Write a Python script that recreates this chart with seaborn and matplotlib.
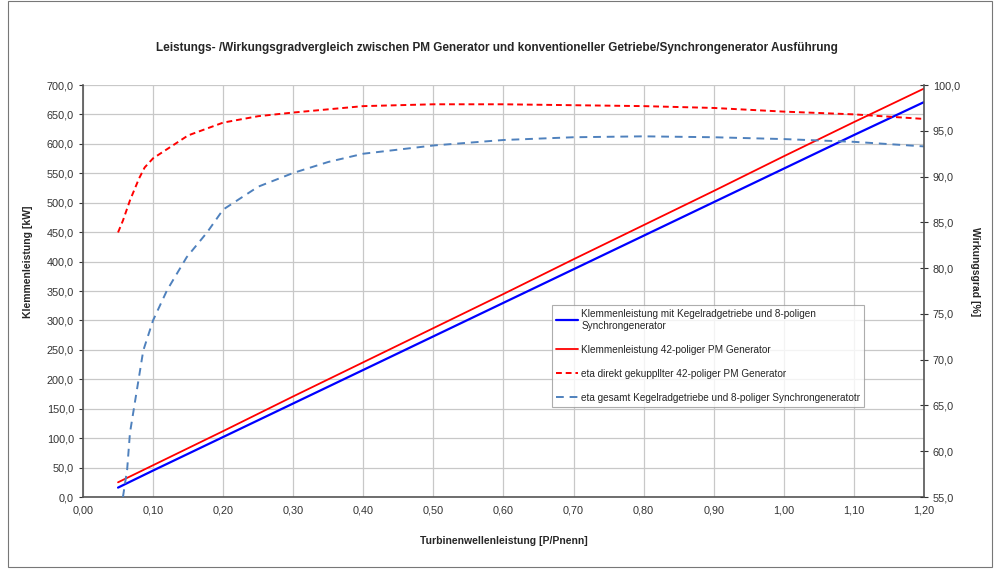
import numpy as np
import pandas as pd
import seaborn as sns
import matplotlib.pyplot as plt
from matplotlib.patches import Rectangle
from matplotlib.ticker import FuncFormatter, MultipleLocator

# Klemmenleistung (linke Achse, kW)
p_x = [0.05, 0.10, 0.20, 0.30, 0.40, 0.50, 0.60, 0.70, 0.80, 0.90, 1.00, 1.10, 1.20]
p_pm = [25, 54, 112, 171, 229, 287, 345, 404, 462, 520, 579, 637, 694]
p_sync = [16, 45, 102, 159, 216, 273, 330, 387, 444, 501, 558, 615, 671]

# Wirkungsgrad (rechte Achse, %)
eta_pm_x = [0.05, 0.057, 0.067, 0.08, 0.088, 0.10, 0.15, 0.20, 0.25, 0.30, 0.40, 0.50, 0.60,
            0.70, 0.80, 0.90, 1.00, 1.10, 1.20]
eta_pm = [83.9, 85.2, 87.4, 89.8, 91.0, 92.0, 94.5, 95.9, 96.6, 97.0, 97.7, 97.9, 97.9,
          97.8, 97.7, 97.5, 97.1, 96.8, 96.3]

eta_sync_x = [0.057, 0.063, 0.067, 0.086, 0.10, 0.12, 0.148, 0.177, 0.20, 0.25, 0.30, 0.35, 0.40,
              0.50, 0.60, 0.70, 0.80, 0.90, 1.00, 1.10, 1.20]
eta_sync = [55.0, 58.0, 62.0, 71.0, 74.3, 77.6, 81.2, 83.9, 86.4, 88.9, 90.4, 91.6, 92.5,
            93.4, 94.0, 94.3, 94.4, 94.3, 94.1, 93.8, 93.3]

labels = [
    "Klemmenleistung mit Kegelradgetriebe und 8-poligen\nSynchrongenerator",
    "Klemmenleistung 42-poliger PM Generator",
    "eta direkt gekuppllter 42-poliger PM Generator",
    "eta gesamt Kegelradgetriebe und 8-poliger Synchrongeneratotr",
]


def comma(fmt):
    return FuncFormatter(lambda v, pos: format(v, fmt).replace(".", ","))


def main():
    sns.set_style("white")
    plt.rcParams["font.family"] = ["Liberation Sans", "DejaVu Sans"]
    plt.rcParams["font.size"] = 7.5

    fig = plt.figure(figsize=(9.94, 5.69), dpi=100)
    ax = fig.add_axes([0.0835, 0.1265, 0.846, 0.724])
    ax2 = ax.twinx()

    sns.lineplot(x=p_x, y=p_sync, ax=ax, color="#0000ff", lw=1.6, label=labels[0], legend=False)
    sns.lineplot(x=p_x, y=p_pm, ax=ax, color="#ff0000", lw=1.3, label=labels[1], legend=False)
    sns.lineplot(x=eta_pm_x, y=eta_pm, ax=ax2, color="#ff0000", lw=1.4,
                 linestyle=(0, (3, 2)), label=labels[2], legend=False)
    sns.lineplot(x=eta_sync_x, y=eta_sync, ax=ax2, color="#4f81bd", lw=1.4,
                 linestyle=(0, (4, 3)), label=labels[3], legend=False)

    ax.set_xlim(0, 1.2)
    ax.set_ylim(0, 700)
    ax2.set_ylim(55, 100)
    ax.xaxis.set_major_locator(MultipleLocator(0.1))
    ax.yaxis.set_major_locator(MultipleLocator(50))
    ax2.yaxis.set_major_locator(MultipleLocator(5))
    ax.xaxis.set_major_formatter(comma(".2f"))
    ax.yaxis.set_major_formatter(comma(".1f"))
    ax2.yaxis.set_major_formatter(comma(".1f"))

    ax.grid(True, color="#c8c8c8", lw=0.9)
    ax.set_axisbelow(True)
    for a in (ax, ax2):
        for s in a.spines.values():
            s.set_visible(False)
        a.tick_params(colors="#333333", labelsize=7.8, length=3, width=0.8)
    ax.spines["left"].set_visible(True)
    ax.spines["bottom"].set_visible(True)
    ax2.spines["right"].set_visible(True)
    for s in (ax.spines["left"], ax.spines["bottom"], ax2.spines["right"]):
        s.set_color("#555555")
        s.set_linewidth(1.2)
    ax.tick_params(axis="x", length=0, pad=6)
    ax.tick_params(axis="y", direction="out")
    ax2.tick_params(axis="y", direction="inout", length=6)

    ax.set_xlabel("Turbinenwellenleistung [P/Pnenn]", fontweight="bold", fontsize=7.5, labelpad=15)
    ax.set_ylabel("Klemmenleistung [kW]", fontweight="bold", fontsize=7.5)
    ax.yaxis.set_label_coords(-0.060, 0.57)
    ax2.set_ylabel("Wirkungsgrad [%]", fontweight="bold", fontsize=7.5, rotation=270, va="center")
    ax2.yaxis.set_label_coords(1.0606, 0.546)

    fig.text(0.5, 0.915, "Leistungs- /Wirkungsgradvergleich zwischen PM Generator und konventioneller "
             "Getriebe/Synchrongenerator Ausführung", ha="center", va="center",
             fontsize=8.5, fontweight="bold")

    h1, l1 = ax.get_legend_handles_labels()
    h2, l2 = ax2.get_legend_handles_labels()
    leg = ax2.legend(h1 + h2, l1 + l2, loc="upper left", bbox_to_anchor=(0.552, 0.478),
                     fontsize=7.2, frameon=True, fancybox=False, handlelength=2.2,
                     handletextpad=0.3, labelspacing=1.4, borderpad=0.4)
    leg.get_frame().set_edgecolor("#999999")
    leg.get_frame().set_linewidth(0.8)

    fig.patches.append(Rectangle((0.008, 0.004), 0.99, 0.994, transform=fig.transFigure,
                                 fill=False, edgecolor="#777777", lw=0.8))

    fig.savefig("out.png", dpi=100)


if __name__ == "__main__":
    main()
